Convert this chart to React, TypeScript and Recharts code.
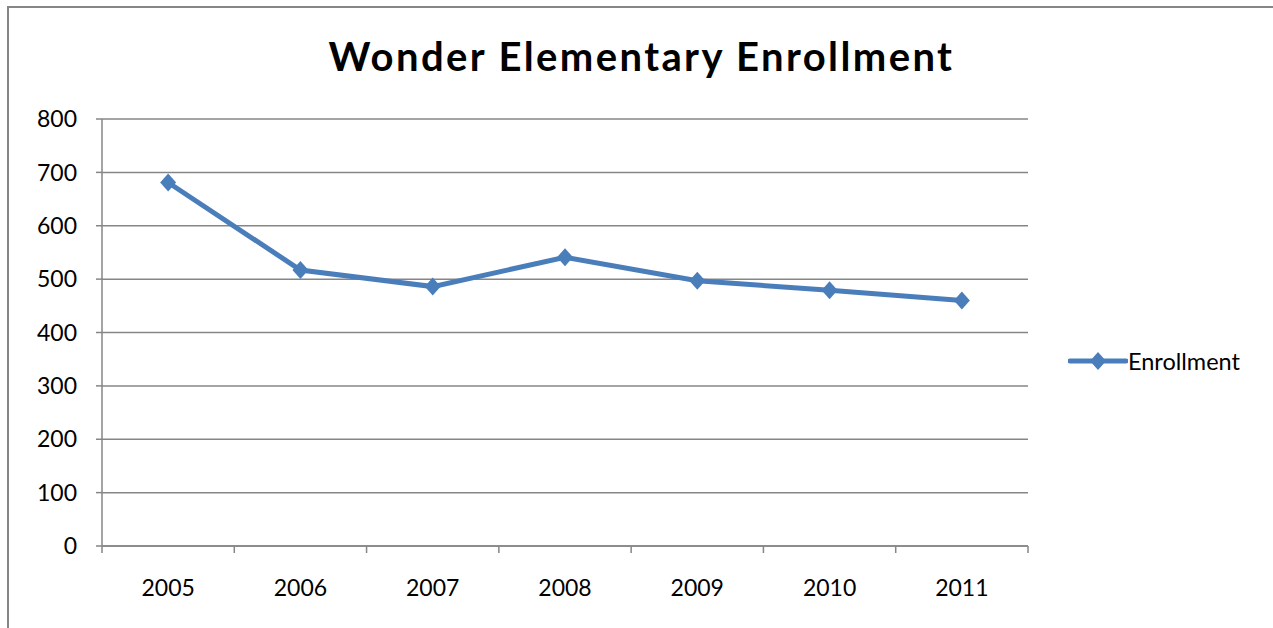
import React from 'react';
import { LineChart, Line, XAxis, YAxis, CartesianGrid, Legend } from 'recharts';

const years = ['2005', '2006', '2007', '2008', '2009', '2010', '2011'];
const enrollment = [681, 517, 486, 541, 497, 479, 460];
const yTicks = [0, 100, 200, 300, 400, 500, 600, 700, 800];

const SERIES_COLOR = '#4a7ebb';
const AXIS_COLOR = '#868686';
const FONT = 'Lato, "Open Sans", sans-serif';
const LABEL_GAP = 34;

const chartData = years.map((year, i) => ({ year, enrollment: enrollment[i] }));

const Diamond = (props: any) => {
  const { cx, cy } = props;
  if (cx == null || cy == null) return null;
  return (
    <polygon
      points={`${cx},${cy - 9} ${cx + 8},${cy} ${cx},${cy + 9} ${cx - 8},${cy}`}
      fill={SERIES_COLOR}
    />
  );
};

// Excel style: labels in the middle of each band, tick marks on the band edges
const YearTick = (props: any) => {
  const { x, y, payload, index, width, visibleTicksCount } = props;
  const half = payload && payload.offset ? payload.offset : width / visibleTicksCount / 2;
  const axisY = y - LABEL_GAP;
  return (
    <g>
      <line x1={x - half} x2={x - half} y1={axisY} y2={axisY + 7} stroke={AXIS_COLOR} strokeWidth={1.5} />
      {index === visibleTicksCount - 1 && (
        <line x1={x + half} x2={x + half} y1={axisY} y2={axisY + 7} stroke={AXIS_COLOR} strokeWidth={1.5} />
      )}
      <text x={x} y={y} dy="0.71em" textAnchor="middle" fill="#000" fontSize={23} fontFamily={FONT}>
        {payload.value}
      </text>
    </g>
  );
};

const renderLegend = (props: any) => {
  const { payload } = props;
  return (
    <div style={{ display: 'flex', alignItems: 'center', fontFamily: FONT }}>
      {(payload || []).map((entry: any) => (
        <div key={entry.value} style={{ display: 'flex', alignItems: 'center' }}>
          <svg width={60} height={20}>
            <line x1={2} y1={10} x2={58} y2={10} stroke={SERIES_COLOR} strokeWidth={5} strokeLinecap="round" />
            <polygon points="30,1 38,10 30,19 22,10" fill={SERIES_COLOR} />
          </svg>
          <span style={{ fontSize: 23.5, color: '#000', marginLeft: 0 }}>{entry.value}</span>
        </div>
      ))}
    </div>
  );
};

const App: React.FC = () => {
  return (
    <div
      style={{
        position: 'absolute',
        left: 0,
        top: 0,
        width: 1273,
        height: 628,
        overflow: 'hidden',
        background: '#fff',
        fontFamily: FONT,
      }}
    >
      <div
        style={{
          position: 'absolute',
          left: 7,
          top: 6,
          width: 1400,
          height: 800,
          border: `2px solid ${AXIS_COLOR}`,
        }}
      />
      <div
        style={{
          position: 'absolute',
          left: 0,
          top: 36,
          width: 1283,
          textAlign: 'center',
          fontSize: 40,
          lineHeight: '40px',
          fontWeight: 700,
          letterSpacing: 2.4,
          color: '#000',
        }}
      >
        Wonder Elementary Enrollment
      </div>
      <div style={{ position: 'absolute', left: 0, top: 0 }}>
        <LineChart
          width={1273}
          height={628}
          data={chartData}
          margin={{ top: 119, right: 245, bottom: 22, left: 42 }}
        >
          <CartesianGrid horizontal vertical={false} stroke={AXIS_COLOR} strokeWidth={1.5} />
          <XAxis
            dataKey="year"
            scale="band"
            height={60}
            stroke={AXIS_COLOR}
            strokeWidth={1.5}
            tickLine={false}
            tickSize={0}
            tickMargin={LABEL_GAP}
            interval={0}
            tick={<YearTick />}
          />
          <YAxis
            domain={[0, 800]}
            ticks={yTicks}
            width={60}
            tickSize={6}
            tickMargin={19}
            stroke={AXIS_COLOR}
            strokeWidth={1.5}
            tick={{ fill: '#000', fontSize: 23, fontFamily: FONT }}
          />
          <Legend
            layout="vertical"
            align="center"
            verticalAlign="middle"
            wrapperStyle={{ left: 1068, top: 347, width: 200 }}
            content={renderLegend}
          />
          <Line
            type="linear"
            dataKey="enrollment"
            name="Enrollment"
            stroke={SERIES_COLOR}
            strokeWidth={5}
            dot={<Diamond />}
            activeDot={false}
            isAnimationActive={false}
          />
        </LineChart>
      </div>
    </div>
  );
};

export default App;
